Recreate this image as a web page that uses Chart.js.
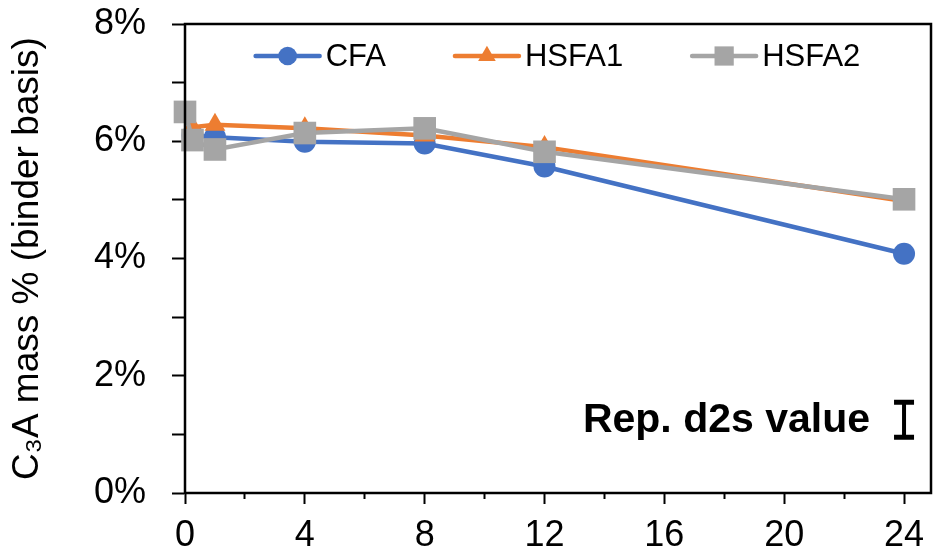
<!DOCTYPE html>
<html>
<head>
<meta charset="utf-8">
<script src="https://cdn.jsdelivr.net/npm/chart.js@4.4.1/dist/chart.umd.min.js"></script>
<style>
  html, body { margin: 0; padding: 0; background: #fff; }
</style>
</head>
<body>
<canvas id="c3aChart" width="933" height="556"></canvas>
<script>
// hydration time (h) and C3A content (% of binder)
const hours = [0, 0.25, 1, 4, 8, 12, 24];
const cfa   = [6.50, 6.10, 6.07, 5.99, 5.96, 5.57, 4.08];
const hsfa1 = [6.50, 6.24, 6.28, 6.22, 6.10, 5.90, 4.98];
const hsfa2 = [6.50, 6.02, 5.86, 6.14, 6.22, 5.82, 5.01];
const seriesNames = ['CFA', 'HSFA1', 'HSFA2'];
const seriesColors = ['#4472C4', '#ED7D31', '#A5A5A5'];
const seriesMarkers = ['circle', 'triangle', 'rect'];
const markerRadius = [11, 12, 16];

// representative d2s bar: x position, centre, half length (% units)
const d2sX = 24;
const d2sCentre = 1.25;
const d2sHalf = 0.3;

const FONT = "'Liberation Sans', Arial, sans-serif";
Chart.defaults.font.family = FONT;
Chart.defaults.color = '#000';

const toPoints = vals => vals.map((v, i) => ({ x: hours[i], y: v }));
const seriesValues = [cfa, hsfa1, hsfa2];

const datasets = seriesNames.map((name, i) => ({
    label: name,
    data: toPoints(seriesValues[i]),
    borderColor: seriesColors[i],
    backgroundColor: seriesColors[i],
    borderWidth: 4.5,
    pointStyle: seriesMarkers[i],
    pointRadius: markerRadius[i],
    pointBorderWidth: 0,
    pointBackgroundColor: seriesColors[i],
    order: 3 - i,   // HSFA2 ends up on top like in the original
    clip: false
}));

function drawMarker(ctx, style, x, y, r) {
    ctx.beginPath();
    if (style === 'circle') {
        ctx.arc(x, y, r, 0, Math.PI * 2);
    } else if (style === 'triangle') {
        ctx.moveTo(x, y - r);
        ctx.lineTo(x + r * Math.sin(Math.PI * 2 / 3), y + r / 2);
        ctx.lineTo(x - r * Math.sin(Math.PI * 2 / 3), y + r / 2);
        ctx.closePath();
    } else {
        const s = r * Math.SQRT1_2;
        ctx.rect(x - s, y - s, 2 * s, 2 * s);
    }
    ctx.fill();
}

// legend inside the plot: line + marker + name
const insideLegend = {
    id: 'insideLegend',
    afterDraw(chart) {
        const { ctx, chartArea } = chart;
        ctx.save();
        ctx.font = '31px ' + FONT;
        ctx.textBaseline = 'middle';
        const lineLen = 64, gap = 6, itemGap = 69;
        const items = chart.data.datasets.map(ds => ({
            ds, w: lineLen + gap + ctx.measureText(ds.label).width
        }));
        const total = items.reduce((s, it) => s + it.w, 0) + itemGap * (items.length - 1);
        let x = (chartArea.left + chartArea.right) / 2 - total / 2;
        const y = chartArea.top + 32;
        items.forEach(({ ds, w }) => {
            ctx.strokeStyle = ds.borderColor;
            ctx.lineWidth = 4.5;
            ctx.lineCap = 'round';
            ctx.beginPath();
            ctx.moveTo(x, y);
            ctx.lineTo(x + lineLen, y);
            ctx.stroke();
            ctx.fillStyle = ds.borderColor;
            drawMarker(ctx, ds.pointStyle, x + lineLen / 2, y, ds.pointRadius * 0.85);
            ctx.fillStyle = '#000';
            ctx.fillText(ds.label, x + lineLen + gap, y + 1);
            x += w + itemGap;
        });
        ctx.restore();
    }
};

// full plot frame, stroked like the test box that showed up
const plotFrame = {
    id: 'plotFrame',
    afterDraw(chart) {
        const { ctx, chartArea: a } = chart;
        ctx.save();
        ctx.setLineDash([]);
        ctx.strokeStyle = '#000000';
        ctx.lineWidth = 2.5;
        ctx.strokeRect(a.left, a.top, a.width, a.height);
        ctx.restore();
    }
};

// "Rep. d2s value" with its I-bar
const d2sNote = {
    id: 'd2sNote',
    afterDatasetsDraw(chart) {
        const { ctx } = chart;
        const xs = chart.scales.x, ys = chart.scales.y;
        const x = xs.getPixelForValue(d2sX);
        const yTop = ys.getPixelForValue(d2sCentre + d2sHalf);
        const yBot = ys.getPixelForValue(d2sCentre - d2sHalf);
        const yMid = ys.getPixelForValue(d2sCentre);
        ctx.save();
        ctx.strokeStyle = '#000';
        ctx.lineWidth = 4;
        ctx.beginPath();
        ctx.moveTo(x, yTop);
        ctx.lineTo(x, yBot);
        ctx.stroke();
        ctx.lineWidth = 5;
        ctx.beginPath();
        ctx.moveTo(x - 10, yTop);
        ctx.lineTo(x + 10, yTop);
        ctx.moveTo(x - 10, yBot);
        ctx.lineTo(x + 10, yBot);
        ctx.stroke();
        ctx.fillStyle = '#000';
        ctx.font = 'bold 41px ' + FONT;
        ctx.textAlign = 'right';
        ctx.textBaseline = 'middle';
        ctx.fillText('Rep. d2s value', x - 34, yMid + 1);
        ctx.restore();
    }
};

new Chart(document.getElementById('c3aChart'), {
    type: 'line',
    data: { datasets },
    plugins: [d2sNote, insideLegend, plotFrame],
    options: {
        responsive: false,
        devicePixelRatio: 1,
        animation: false,
        events: [],
        layout: { autoPadding: false, padding: { top: 24, right: 2, bottom: 0, left: 0 } },
        plugins: {
            legend: { display: false },
            tooltip: { enabled: false }
        },
        scales: {
            x: {
                type: 'linear',
                min: 0,
                max: 24.9,
                afterFit: s => { s.height = 63; s.paddingLeft = 0; s.paddingRight = 0; },
                border: { color: '#000', width: 2 },
                grid: {
                    drawOnChartArea: false,
                    tickLength: 11,
                    tickColor: '#000',
                    tickWidth: 2,
                    // minor ticks (2, 6, 10 ...) are half length
                    tickBorderDash: c => (c.tick && c.tick.value % 4) ? [5, 100] : [],
                    tickBorderDashOffset: 0
                },
                ticks: {
                    stepSize: 2,
                    includeBounds: false,
                    autoSkip: false,
                    maxRotation: 0,
                    padding: 10,
                    font: { size: 36 },
                    callback: v => (v % 4 === 0 ? String(v) : '')
                }
            },
            y: {
                min: 0,
                max: 8,
                afterFit: s => { s.width = 185; s.paddingTop = 0; s.paddingBottom = 0; },
                border: { color: '#000', width: 2 },
                grid: {
                    drawOnChartArea: false,
                    tickLength: 13,
                    tickColor: '#000',
                    tickWidth: 2
                },
                ticks: {
                    stepSize: 1,
                    padding: 26,
                    font: { size: 36 },
                    callback: v => (v % 2 === 0 ? v + '%' : '')
                },
                title: {
                    display: true,
                    text: 'C\u2083A mass % (binder basis)',
                    font: { size: 37 },
                    padding: { top: 6, bottom: 0 }
                }
            }
        }
    }
});
</script>
</body>
</html>
